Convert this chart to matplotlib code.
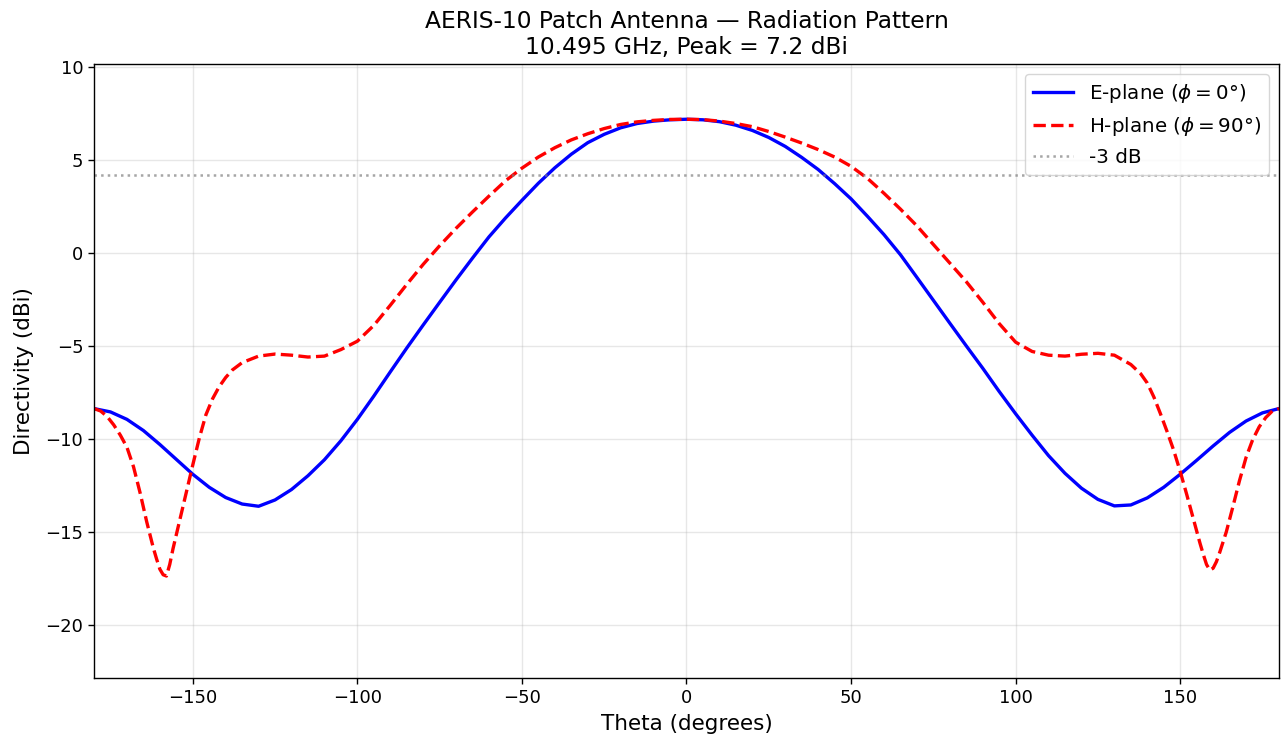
import numpy as np
import matplotlib
matplotlib.use('Agg')
import matplotlib.pyplot as plt

# E-plane (phi = 0 deg), read every 5 degrees
theta_e = np.arange(-180, 181, 5)
e_plane = [-8.37, -8.55, -8.95, -9.55, -10.3, -11.1, -11.9, -12.6, -13.15, -13.5,
           -13.62, -13.28, -12.72, -11.98, -11.12, -10.1, -8.95, -7.7, -6.4, -5.12,
           -3.88, -2.66, -1.45, -0.28, 0.86, 1.87, 2.82, 3.74, 4.57, 5.3,
           5.92, 6.37, 6.72, 6.95, 7.08, 7.15, 7.18,
           7.15, 7.05, 6.86, 6.58, 6.2, 5.72, 5.13, 4.48, 3.72, 2.9,
           1.96, 0.98, -0.1, -1.32, -2.55, -3.78, -5.0, -6.2, -7.45, -8.65,
           -9.8, -10.9, -11.85, -12.65, -13.25, -13.6, -13.55, -13.17, -12.6, -11.9,
           -11.15, -10.38, -9.65, -9.04, -8.6, -8.37]

# H-plane (phi = 90 deg), finer steps around the deep nulls
theta_h = [-180, -178, -176, -174, -172, -170, -168, -166, -164, -162, -161, -160,
           -159, -158, -157, -156, -154, -152, -150, -148, -146, -144, -142, -140,
           -138, -135, -130, -125, -120, -115, -110, -105, -100, -95, -90, -85, -80,
           -75, -70, -65, -60, -55, -50, -45, -40, -35, -30, -25, -20, -15, -10, -5, 0,
           5, 10, 15, 20, 25, 30, 35, 40, 45, 50, 55, 60, 65, 70, 75, 80, 85, 90,
           95, 100, 105, 110, 115, 120, 125, 130, 135, 138, 140, 142, 144, 146, 148,
           150, 152, 154, 156, 157, 158, 159, 160, 161, 162, 164, 166, 168, 170, 172,
           174, 176, 178, 180]
h_plane = [-8.37, -8.5, -8.8, -9.25, -9.8, -10.45, -11.5, -12.9, -14.45, -15.85, -16.45, -17.0,
           -17.3, -17.37, -16.75, -15.9, -14.4, -12.9, -11.4, -9.95, -8.7, -7.85, -7.2, -6.7,
           -6.3, -5.9, -5.55, -5.44, -5.5, -5.6, -5.55, -5.2, -4.75, -3.9, -2.82, -1.7, -0.62,
           0.38, 1.32, 2.2, 3.05, 3.87, 4.55, 5.15, 5.65, 6.07, 6.4, 6.68, 6.9, 7.04, 7.12, 7.17, 7.18,
           7.16, 7.08, 6.95, 6.78, 6.52, 6.22, 5.9, 5.55, 5.15, 4.65, 4.0, 3.2, 2.35, 1.45, 0.45, -0.55, -1.55, -2.65,
           -3.8, -4.8, -5.3, -5.5, -5.55, -5.45, -5.4, -5.5, -6.0, -6.5, -7.0, -7.75, -8.65, -9.6, -10.6,
           -11.75, -13.0, -14.3, -15.6, -16.2, -16.75, -17.05, -16.95, -16.6, -16.1, -15.0, -13.65, -12.25, -11.0, -10.05,
           -9.35, -8.85, -8.5, -8.37]

freq_ghz = 10.495
peak = 7.2

fig, ax = plt.subplots(figsize=(12.81, 7.38), dpi=100)
fig.subplots_adjust(left=0.0734, right=0.9984, top=0.9133, bottom=0.0813)

ax.plot(theta_e, e_plane, 'b-', linewidth=2.4, label=r'E-plane ($\phi=0°$)')
ax.plot(theta_h, h_plane, 'r--', linewidth=2.4, label=r'H-plane ($\phi=90°$)')
ax.axhline(peak - 3, color='gray', linestyle=':', linewidth=1.8, alpha=0.7, label='-3 dB')

ax.set_xlim(-180, 180)
ax.set_ylim(-22.85, 10.15)
ax.set_xlabel('Theta (degrees)', fontsize=15.5, labelpad=5)
ax.set_ylabel('Directivity (dBi)', fontsize=15.5, labelpad=8)
ax.set_title(f'AERIS-10 Patch Antenna — Radiation Pattern\n{freq_ghz} GHz, Peak = {peak} dBi',
             fontsize=16.8, pad=7)
ax.tick_params(labelsize=13, length=4.2, width=1.0)
for s in ax.spines.values():
    s.set_linewidth(1.0)
ax.grid(True, alpha=0.3, linewidth=1.0)
ax.legend(fontsize=14.3, loc='upper right')

fig.savefig('out.png', dpi=100)
